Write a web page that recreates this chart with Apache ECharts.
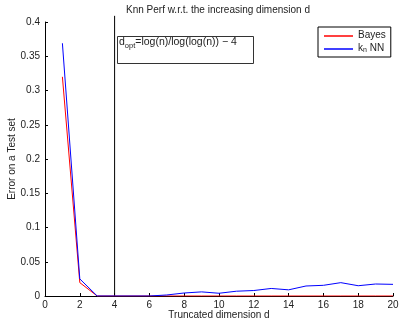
<!DOCTYPE html>
<html>
<head>
<meta charset="utf-8">
<script src="https://cdn.jsdelivr.net/npm/echarts@6/dist/echarts.min.js"></script>
<style>
  html, body { margin: 0; padding: 0; background: #fff; }
  #chart { width: 399px; height: 320px; }
</style>
</head>
<body>
<div id="chart"></div>
<script>
// data
const dims = [1, 2, 3, 4, 5, 6, 7, 8, 9, 10, 11, 12, 13, 14, 15, 16, 17, 18, 19, 20]
const bayesErr = [0.32, 0.0195, 0, 0, 0, 0, 0, 0, 0, 0, 0, 0, 0, 0, 0, 0, 0, 0, 0, 0]
const knnErr = [0.369, 0.025, 0, 0, 0, 0, 0.0015, 0.0044, 0.006, 0.004, 0.007, 0.008,
  0.011, 0.009, 0.0146, 0.0156, 0.0195, 0.015, 0.0175, 0.017]
const dOpt = 4
const dOptTop = 0.409

const FONT = 'Liberation Sans'

const chart = echarts.init(document.getElementById('chart'))

// 子标签格式
const legendFormatter = name => name === 'knn' ? '{a|k}{s|n}{a| NN}' : '{a|' + name + '}'

chart.setOption({
  animation: false,
  textStyle: { fontFamily: FONT },
  title: {
    text: 'Knn Perf w.r.t. the increasing dimension d',
    left: 126,
    top: 5,
    padding: 0,
    textStyle: { fontSize: 10, fontWeight: 'normal', color: '#222', fontFamily: FONT }
  },
  legend: {
    data: ['Bayes', 'knn'],
    orient: 'vertical',
    left: 318,
    top: 27,
    padding: [3, 5, 3, 6],
    itemGap: 3,
    itemWidth: 29,
    itemHeight: 1.5,
    icon: 'rect',
    borderColor: '#000',
    borderWidth: 1,
    backgroundColor: '#fff',
    formatter: legendFormatter,
    textStyle: {
      color: '#222',
      rich: {
        a: { fontSize: 10, lineHeight: 12, verticalAlign: 'top', fontFamily: FONT, color: '#222' },
        s: { fontSize: 7, lineHeight: 9, padding: [4, 0, 0, 0], verticalAlign: 'top', fontFamily: FONT, color: '#222' }
      }
    }
  },
  grid: { left: 45, right: 6, top: 22, bottom: 24, containLabel: false, outerBoundsMode: 'none' },
  xAxis: {
    type: 'value',
    min: 0,
    max: 20,
    interval: 2,
    name: 'Truncated dimension d',
    nameLocation: 'middle',
    nameGap: 14,
    nameMoveOverlap: false,
    nameTextStyle: { fontSize: 10, color: '#222' },
    axisLine: { lineStyle: { color: '#000', width: 1 } },
    axisTick: { inside: true, length: 3, lineStyle: { color: '#000' } },
    axisLabel: { fontSize: 10, color: '#222', margin: 4 },
    splitLine: { show: false }
  },
  yAxis: {
    type: 'value',
    min: 0,
    max: 0.4,
    interval: 0.05,
    name: 'Error on a Test set',
    nameLocation: 'middle',
    nameGap: 28,
    nameMoveOverlap: false,
    nameTextStyle: { fontSize: 10, color: '#222' },
    axisLine: { show: true, lineStyle: { color: '#000', width: 1 } },
    axisTick: { show: true, inside: true, length: 3, lineStyle: { color: '#000' } },
    axisLabel: { fontSize: 10, color: '#222', margin: 5 },
    splitLine: { show: false }
  },
  graphic: [
    {
      type: 'rect',
      left: 117,
      top: 36,
      shape: { width: 136, height: 27 },
      style: { fill: '#fff', stroke: '#333', lineWidth: 1 },
      z: 10
    },
    {
      type: 'text',
      left: 119,
      top: 37,
      z: 11,
      style: {
        text: '{a|d}{s|opt}{a|=log(n)/log(log(n)) \u2212 4}',
        rich: {
          a: { fontSize: 10.5, lineHeight: 12, verticalAlign: 'top', fontFamily: FONT, fill: '#222' },
          s: { fontSize: 7.5, lineHeight: 9, padding: [5, 0, 0, 0], verticalAlign: 'top', fontFamily: FONT, fill: '#222' }
        }
      }
    }
  ],
  series: [
    {
      name: 'dopt',
      type: 'line',
      data: [[dOpt, 0], [dOpt, dOptTop]],
      symbol: 'none',
      clip: false,
      lineStyle: { color: '#000', width: 1 },
      itemStyle: { color: '#000' },
      silent: true
    },
    {
      name: 'Bayes',
      type: 'line',
      data: dims.map((d, i) => [d, bayesErr[i]]),
      symbol: 'none',
      lineStyle: { color: '#ff0000', width: 1 },
      itemStyle: { color: '#ff0000' }
    },
    {
      name: 'knn',
      type: 'line',
      data: dims.map((d, i) => [d, knnErr[i]]),
      symbol: 'none',
      lineStyle: { color: '#0000ff', width: 1 },
      itemStyle: { color: '#0000ff' }
    }
  ]
})
</script>
</body>
</html>
